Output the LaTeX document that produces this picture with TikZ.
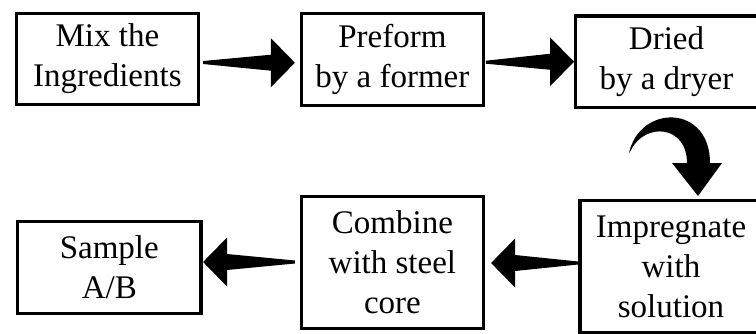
\documentclass[tikz,border=0pt]{standalone}
\usepackage{fontspec}
\setmainfont{Liberation Serif}
\usetikzlibrary{calc}
\tikzset{
  stepbox/.style={draw, line width=3.3pt, outer sep=0pt, inner sep=0pt,
    align=center, font=\fontsize{33}{40}\selectfont, minimum width=182pt},
  % tapered horizontal block arrow: thin tail, wide triangular head
  fat/.style={to path={
    let \p1=(\tikztostart), \p2=(\tikztotarget),
        \n1={ifthenelse(\x2>\x1,1,-1)} in
    (\x1,\y1+1.5pt)
    -- (\x2-\n1*24pt,\y2+8pt)
    -- (\x2-\n1*24pt,\y2+24.5pt)
    -- (\x2,\y2)
    -- (\x2-\n1*24pt,\y2-24.5pt)
    -- (\x2-\n1*24pt,\y2-8pt)
    -- (\x1,\y1-1.5pt)
    -- cycle}},
}
\begin{document}
\begin{tikzpicture}[x=1pt,y=-1pt]
\useasboundingbox (0,0) rectangle (756,333);
\clip (0,0) rectangle (756,333);

% process steps
\node[stepbox, minimum height=91pt] (mix) at (107.4,59) {Mix the\\Ingredients};
\node[stepbox, minimum height=92pt] (pre) at (392.4,59.2) {Preform\\by a former};
\node[stepbox, minimum height=91.5pt] (dry) at (666.5,61.75) {Dried\\by a dryer};
\node[stepbox, minimum height=132pt] (imp) at (671,266.5) {Impregnate\\with\\solution};
\node[stepbox, minimum height=132pt] (com) at (392.4,262.4) {Combine\\with steel\\core};
\node[stepbox, minimum height=92pt, minimum width=183.5pt] (sam) at (109.3,267.4) {Sample\\A/B};

% block arrows between steps
\fill[fat] ([shift={(4.7,3.5)}]mix.east) to ([shift={(-6.5,3.5)}]pre.west);
\fill[fat] ([shift={(2.5,3)}]pre.east) to ([shift={(-1.5,0)}]dry.west);
\fill[fat] ([shift={(-2,-3.5)}]imp.west) to ([shift={(7.7,0.6)}]com.east);
\fill[fat] ([shift={(-6.5,-0.4)}]com.west) to ([shift={(2,-5.4)}]sam.east);

% curved arrow from the first row down to the second
\fill (629,153) .. controls (640,104) and (710,104) .. (710,163)
  -- (722,163) -- (698,196) -- (672,163) -- (687,163)
  .. controls (687,125) and (645,122) .. (631,150) -- cycle;
\end{tikzpicture}
\end{document}
